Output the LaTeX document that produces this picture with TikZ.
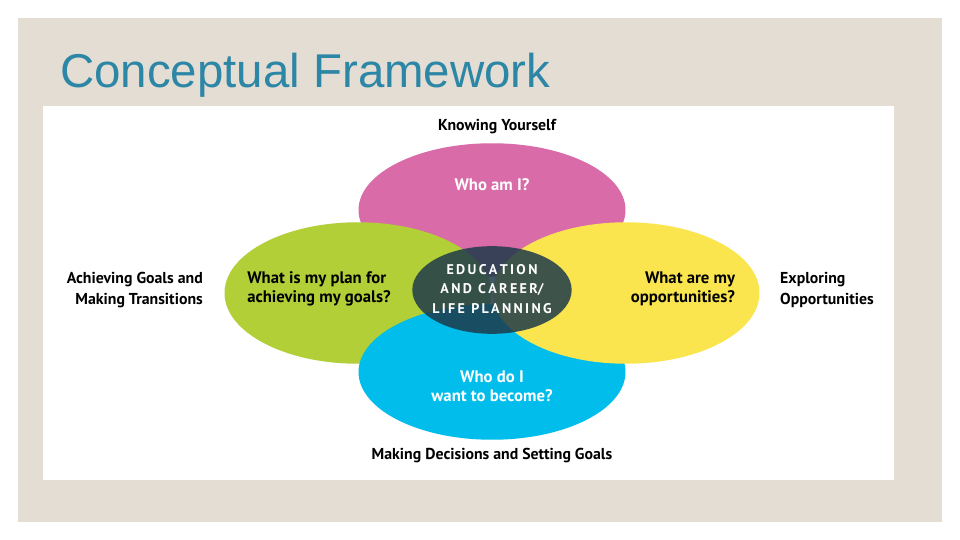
\documentclass[tikz,border=0pt]{standalone}
\usepackage{fontspec}
\setmainfont{PT Sans}
\newfontfamily\titlefont{Liberation Sans}
\usetikzlibrary{positioning}
\definecolor{panel}{HTML}{E3DDD3}
\definecolor{titleblue}{HTML}{2C86A6}
\definecolor{pinkc}{HTML}{D96BA8}
\definecolor{greenc}{HTML}{B3CF38}
\definecolor{bluec}{HTML}{00BDEB}
\definecolor{yellowc}{HTML}{FBE54E}
\definecolor{corec}{HTML}{1E3A4A}
\tikzset{
  petal/.style={ellipse, inner sep=0pt, minimum width=268*0.567pt},
  ask/.style={font=\bfseries\fontsize{9.5}{11}\selectfont, align=center},
  side/.style={font=\bfseries\fontsize{9}{12}\selectfont, text=black}
}
\usetikzlibrary{shapes.geometric}
\begin{document}
\begin{tikzpicture}[x=0.02cm, y=-0.02cm]
  \useasboundingbox (0,0) rectangle (960,540);
  \fill[white] (0,0) rectangle (960,540);
  \fill[panel] (18,18) rectangle (942,522);
  \fill[white] (43,106) rectangle (894,480);
  \node[anchor=west, text=titleblue, font=\titlefont\fontsize{27}{30}\selectfont] (title) at (54,75) {Conceptual Framework};

  % the four circles
  \node[petal, fill=pinkc, minimum height=134*0.567pt] (pink) at (492,210) {};
  \node[petal, fill=greenc, minimum height=142*0.567pt] (green) at (358,293) {};
  \node[petal, fill=bluec, minimum height=136*0.567pt] (blue) at (492,372) {};
  \node[petal, fill=yellowc, minimum height=142*0.567pt] (yellow) at (626,293) {};
  \node[ellipse, fill=corec, fill opacity=0.85, minimum width=160*0.567pt, minimum height=88*0.567pt] (core) at (492,290) {};

  \node[ask, text=white] (whoami) at (492,185) {Who am I?};
  \node[ask, text=black, align=left] (plan) at (319,289) {What is my plan for\\achieving my goals?};
  \node[ask, text=black, align=right] (opps) at (683,289) {What are my\\opportunities?};
  \node[ask, text=white] (become) at (492,386) {Who do I\\want to become?};
  \node[text=white, font=\bfseries\fontsize{8}{11}\selectfont, align=center] (plantxt) at (492,289) {E\,D\,U\,C\,A\,T\,I\,O\,N\\A\,N\,D\;\,C\,A\,R\,E\,E\,R/\\L\,I\,F\,E\;\,P\,L\,A\,N\,N\,I\,N\,G};

  % labels round the edge
  \node[side] (know) at (497,127) {Knowing Yourself};
  \node[side, align=right, anchor=east] (achieve) at (209,290) {Achieving Goals and\\Making Transitions};
  \node[side, align=left, anchor=west] (explore) at (774,290) {Exploring\\Opportunities};
  \node[side] (decide) at (492,456) {Making Decisions and Setting Goals};
\end{tikzpicture}
\end{document}
